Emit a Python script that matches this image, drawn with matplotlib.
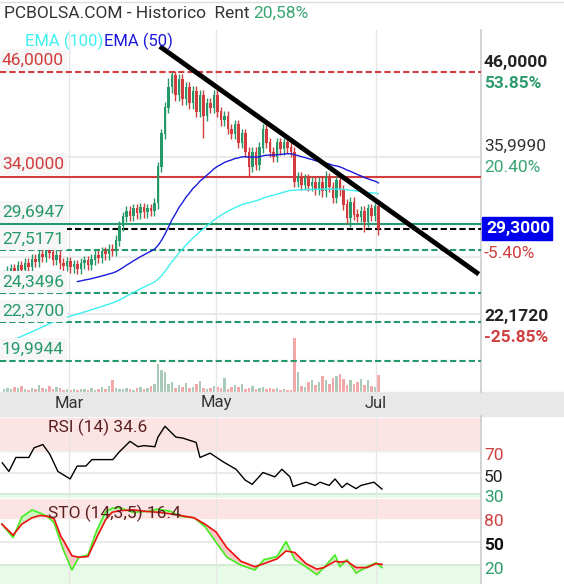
import numpy as np
import matplotlib
matplotlib.use("Agg")
import matplotlib.pyplot as plt

plt.rcParams['font.family'] = ['Roboto', 'DejaVu Sans']

closes = [25.6,25.9,26.1,25.8,26.3,26.0,26.5,26.2,26.8,26.6,27.2,27.0,27.5,27.3,26.8,27.1,26.5,26.3,26.6,26.2,
          26.4,26.1,26.5,26.7,26.4,26.8,27.1,26.9,27.4,27.2,27.6,27.5,28.3,29.5,30.3,30.8,30.4,31.0,30.6,31.1,
          30.7,31.0,30.8,31.5,35.0,38.5,41.5,44.0,45.5,43.0,45.0,42.5,44.0,42.0,43.5,41.0,43.0,40.5,42.0,41.5,
          43.0,41.0,40.0,40.5,39.0,38.5,39.5,37.5,38.5,36.5,35.0,36.5,35.2,37.0,39.0,37.5,36.5,36.0,37.5,36.8,
          37.5,37.0,36.5,33.5,34.0,33.2,33.8,33.1,33.5,32.8,33.5,32.6,33.9,33.0,32.0,33.6,32.7,31.4,30.2,31.6,
          30.5,30.3,30.8,29.9,31.0,30.4,31.2,29.3]
first_open = 25.4
high_override = {48: 46.0, 74: 39.6, 47: 45.2, 106: 31.5, 92: 34.6}
low_override = {57: 38.0, 70: 34.0, 107: 28.8, 83: 33.0, 99: 29.4, 103: 29.0}
volumes = [3,4,3,5,4,6,3,2,4,3,7,4,3,6,3,5,4,2,3,2,
           3,2,3,3,2,4,2,3,5,3,6,12,4,3,3,4,3,2,4,5,
           3,4,6,8,28,22,20,8,10,4,7,5,9,4,5,8,11,4,3,4,
           6,5,4,14,3,5,7,5,8,3,4,6,3,4,5,3,4,3,4,2,
           3,2,2,54,20,6,5,10,12,7,10,16,12,8,14,16,18,13,7,12,
           8,10,13,7,12,6,5,17]
vol_up = [c >= o for c, o in zip(closes, [first_open] + closes[:-1])]

levels = [46.0, 34.0, 29.6947, 29.3, 27.5171, 24.3496, 22.37, 19.9944]
trend_days = [45.1, 135.1]
trend_vals = [49.3, 25.8]

rsi_days = [-0.5,1.4,3.4,7.1,8.6,11.1,13.1,15.4,18.9,20.9,23.4,25.1,31.1,32.9,36,38.3,40,43.1,44,46,
            49.1,51.1,54.9,56,58.9,62.6,66.3,68.9,70.9,74,77.4,79.4,81.7,82.6,86.3,88.9,90.3,92.9,94.6,96.6,
            98,100.6,102,105.7,108]
rsi_vals = [59,51,64,64,73,76,67,51,44,56,56,62,62,69,79,74,75,74,83,93,
            83,82,78,64,68,60,53,43,39,50,46,53,46,37,41,38,41,38,44,36,
            40,35,38,41,34.6]

sto_days = [-0.6,2.6,5.1,8,10.3,12.3,14.3,16.3,16.9,19.4,21.4,24,26.6,29.1,30.9,32.9,36.9,40.9,44,47.7,
            50.3,54.3,57.4,60.6,63.7,67.7,71.7,74.3,78,80.6,83.1,86.3,89.4,91.4,94.6,96,98,100.6,103.7,106.3,108]
sto_k = [72,55,81,90,86,82,74,48,40,14,30,33,65,88,92,93,87,88,91,88,
         82,80,69,49,30,20,14,27,31,50,27,18,8,17,33,18,27,10,18,23,17]
sto_d = [72,58,72,80,83,82,79,56,52,32,30,31,56,78,87,89,90,88,87,85,
         83,80,72,62,42,25,18,22,28,38,36,22,15,17,25,24,25,17,17,22,21]

month_days = [18.6, 60.6, 106.3]
month_labels = ['Mar', 'May', 'Jul']

W, H = 564, 584
fig = plt.figure(figsize=(W/100, H/100), dpi=100)
def fx(x): return x / W
def fy(y): return 1 - y / H
def axrect(x0, y0, x1, y1): return [fx(x0), fy(y1), fx(x1) - fx(x0), (y1 - y0) / H]

GREEN = '#26996b'; RED = '#d23c3c'; XL = (-1.14, 136.3)

fig.patches.append(plt.Rectangle((0, fy(416)), 1, (416-392)/H, transform=fig.transFigure,
                                 color='#e8e8e8', zorder=0))
for d, lab in zip(month_days, month_labels):
    fig.text(fx(4 + d*3.5), fy(403), lab, ha='center', va='center', fontsize=12, color='#333333')

ax = fig.add_axes(axrect(0, 30, 481, 392))
vx = ax.twinx()
ax.set_zorder(2); ax.patch.set_visible(False)
n = len(closes)
idx = np.arange(n)
opens = [first_open] + closes[:-1]
vx.bar(idx, volumes, width=0.75, color=['#a9c9b9' if u else '#f2a8a8' for u in vol_up])
vx.set_ylim(0, 363)
vx.axis('off')
ax.set_yscale('log')
ax.set_ylim(18.3, 51.9)
ax.set_xlim(*XL)
for d in month_days:
    ax.axvline(d, color='#e6e6e6', lw=1, zorder=0)
for v in [35.999, 27.0, 22.9]:
    ax.axhline(v, color='#e6e6e6', lw=1.2, zorder=0)
for i in range(n):
    o, c = opens[i], closes[i]
    col = GREEN if c >= o else RED
    hi = high_override.get(i, max(o, c) * 1.015)
    lo = low_override.get(i, min(o, c) * 0.985)
    ax.vlines(i, lo, hi, color=col, lw=1, zorder=3)
    ax.bar(i, abs(c - o) + 0.05, bottom=min(o, c), width=0.6, color=col, zorder=3)
alpha50, alpha100 = 2/51, 2/101
e50, e100 = [23.3], [21.0]
for c in closes[1:]:
    e50.append(e50[-1] + alpha50*(c - e50[-1]))
    e100.append(e100[-1] + alpha100*(c - e100[-1]))
ax.plot(idx[21:], e50[21:], color='#1a1adb', lw=1, zorder=4)
ax.plot(idx, e100, color='#3ff0f0', lw=1, zorder=4)
ax.axhline(levels[0], color=RED, ls=(0, (3, 1.5)), lw=1.5, zorder=2)
ax.axhline(levels[1], color=RED, lw=1.5, zorder=2)
ax.axhline(levels[2], color=GREEN, lw=1.5, zorder=2)
ax.axhline(levels[3], color='black', ls=(0, (3, 1.5)), lw=1.5, zorder=2)
for v in levels[4:]:
    ax.axhline(v, color=GREEN, ls=(0, (3, 1.5)), lw=1.5, zorder=2)
ax.plot(trend_days, trend_vals, color='black', lw=3.5, zorder=6)
ax.axis('off')

labs = [('46,0000', RED, 60), ('34,0000', RED, 164), ('29,6947', GREEN, 212), ('27,5171', GREEN, 239),
        ('24,3496', GREEN, 282), ('22,3700', GREEN, 311), ('19,9944', GREEN, 349)]
for t, c, y in labs:
    fig.text(fx(2), fy(y), t, color=c, fontsize=12.5, va='center', ha='left', zorder=10,
             bbox=dict(boxstyle='square,pad=0.2', fc='#f6f6f6', ec='none'))
fig.text(fx(25), fy(41), 'EMA (100)', color='#3ff0f0', fontsize=12, va='center')
fig.text(fx(104), fy(41), 'EMA (50)', color='#1a1adb', fontsize=12, va='center')
fig.text(fx(4), fy(13), 'PCBOLSA.COM - Historico  Rent', color='#333333', fontsize=12.5, va='center')
fig.text(fx(253), fy(13), '20,58%', color='#3aa572', fontsize=12.5, va='center')

right = [('46,0000', '#222222', 62, 'bold'), ('53.85%', '#2e9c6e', 83, 'bold'),
         ('35,9990', '#333333', 146, 'normal'), ('20.40%', '#3aa572', 168, 'normal'),
         ('-5.40%', '#d04040', 253, 'normal'), ('22,1720', '#222222', 316, 'bold'),
         ('-25.85%', '#d04040', 338, 'bold')]
for t, c, y, w in right:
    fig.text(fx(484), fy(y), t, color=c, fontsize=12.5, fontweight=w, va='center')
fig.patches.append(plt.Rectangle((fx(482), fy(240)), 70/W, 23/H, transform=fig.transFigure,
                                 color='#0000ee', zorder=5))
fig.text(fx(486), fy(229), '29,3000', color='white', fontsize=12.5, fontweight='bold', va='center', zorder=6)

ra = fig.add_axes(axrect(0, 418, 481, 498))
ra.set_ylim(26.3, 100.7); ra.set_xlim(*XL)
ra.axhspan(70, 101, color='#fde4e4', zorder=0)
ra.axhspan(26, 30, color='#e8fbe8', zorder=0)
ra.axhline(50, color='#e6e6e6', lw=1.2, zorder=1)
ra.axhline(70, color='#eeeeee', lw=1, zorder=1)
ra.axhline(30, color='#cfe8cf', lw=1.2, zorder=1)
for d in month_days:
    ra.axvline(d, color='#e6e6e6', lw=1, zorder=1)
ra.plot(rsi_days, rsi_vals, color='black', lw=1, zorder=3)
ra.text(0.1, 0.88, 'RSI (14) 34.6', transform=ra.transAxes, fontsize=12.5, color='#5a2020', va='center')
ra.axis('off')
fig.text(fx(484), fy(455), '70', color='#d04040', fontsize=12.5, va='center')
fig.text(fx(484), fy(477), '50', color='#222222', fontsize=12.5, va='center')
fig.text(fx(484), fy(497), '30', color='#2e9c6e', fontsize=12.5, va='center')

sa = fig.add_axes(axrect(0, 499, 481, 584))
sa.set_ylim(-3.8, 103.8); sa.set_xlim(*XL)
sa.axhspan(80, 104, color='#fde4e4', zorder=0)
sa.axhspan(-4, 20, color='#e8fbe8', zorder=0)
sa.axhline(50, color='#e6e6e6', lw=1.2, zorder=1)
sa.axhline(20, color='#cfe8cf', lw=1.2, zorder=1)
for d in month_days:
    sa.axvline(d, color='#e6e6e6', lw=1, zorder=1)
k = np.array(sto_k, float); dd = np.array(sto_d, float)
sa.fill_between(sto_days, k, dd, where=k >= dd, color='#c8f5c0', interpolate=True, zorder=2)
sa.fill_between(sto_days, k, dd, where=k < dd, color='#f7c8c8', interpolate=True, zorder=2)
sa.plot(sto_days, sto_k, color='#44ee22', lw=1.2, zorder=3)
sa.plot(sto_days, sto_d, color='#ee1111', lw=1.2, zorder=4)
sa.text(0.1, 0.83, 'STO (14,3,5) 16.4', transform=sa.transAxes, fontsize=12.5, color='#5a2020', va='center', zorder=5)
sa.axis('off')
fig.text(fx(484), fy(522), '80', color='#d04040', fontsize=12.5, va='center')
fig.text(fx(484), fy(546), '50', color='#111111', fontsize=12.5, fontweight='bold', va='center')
fig.text(fx(484), fy(570), '20', color='#2e9c6e', fontsize=12.5, va='center')

fig.add_artist(plt.Line2D([fx(481)]*2, [fy(30), fy(392)], color='#cccccc', lw=1.2))
fig.add_artist(plt.Line2D([fx(481)]*2, [fy(416), fy(584)], color='#cccccc', lw=1.2))
fig.add_artist(plt.Line2D([0, 1], [fy(2), fy(2)], color='#dddddd', lw=1))

fig.savefig('out.png', dpi=100)
